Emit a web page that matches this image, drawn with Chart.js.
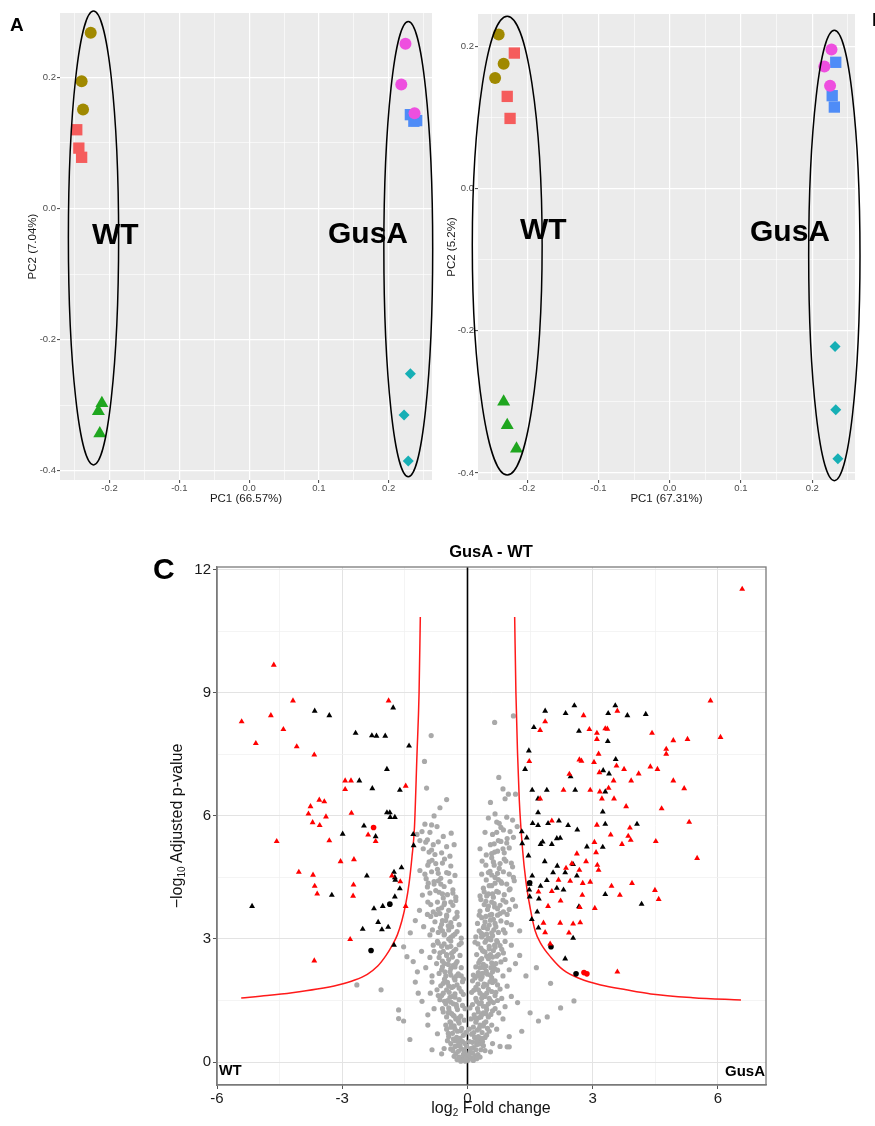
<!DOCTYPE html>
<html>
<head>
<meta charset="utf-8">
<script src="https://cdn.jsdelivr.net/npm/chart.js@4.4.0/dist/chart.umd.min.js"></script>
<style>
  body { margin: 0; width: 875px; height: 1126px; position: relative; overflow: hidden; background: #fff;
         font-family: "Liberation Sans", Arial, Helvetica, sans-serif; }
  canvas { position: absolute; }
  .lbl { position: absolute; font-weight: bold; color: #000; line-height: 1; white-space: nowrap; }
  .ttl { position: absolute; color: #111; line-height: 1; white-space: nowrap; font-size: 16px; }
  .ttl sub { font-size: 10px; vertical-align: -3px; }
</style>
</head>
<body>
<canvas id="pcaA" width="440" height="510" style="left:0;top:0"></canvas>
<canvas id="pcaB" width="435" height="510" style="left:440px;top:0"></canvas>
<canvas id="volcano" width="660" height="596" style="left:130px;top:530px"></canvas>

<div class="lbl" style="left:10px;top:15px;font-size:19px">A</div>
<div class="lbl" style="left:872px;top:10px;font-size:19px">B</div>
<div class="lbl" style="left:153px;top:554px;font-size:30px">C</div>
<div class="lbl" style="left:92px;top:219px;font-size:30px">WT</div>
<div class="lbl" style="left:328px;top:218px;font-size:30px">GusA</div>
<div class="lbl" style="left:520px;top:214px;font-size:30px">WT</div>
<div class="lbl" style="left:750px;top:216px;font-size:30px">GusA</div>
<div class="lbl" style="left:491px;top:543px;font-size:16.5px;transform:translateX(-50%)">GusA - WT</div>
<div class="lbl" style="left:219px;top:1063px;font-size:14.5px">WT</div>
<div class="lbl" style="right:110px;top:1063px;font-size:15px">GusA</div>
<div class="ttl" style="left:178px;top:826px;transform:translate(-50%,-50%) rotate(-90deg)">&minus;log<sub>10</sub> Adjusted p-value</div>
<div class="ttl" style="left:491px;top:1109px;transform:translate(-50%,-50%)">log<sub>2</sub> Fold change</div>

<script>
// ---- panel A: PCA (PC1 66.57%, PC2 7.04%) ----
const aOliveCircles = [[-0.227, 0.268], [-0.240, 0.194], [-0.238, 0.151]];
const aRedSquares = [[-0.247, 0.120], [-0.244, 0.092], [-0.240, 0.078]];
const aGreenTriangles = [[-0.211, -0.297], [-0.216, -0.309], [-0.214, -0.343]];
const aMagentaCircles = [[0.224, 0.251], [0.218, 0.189], [0.237, 0.145]];
const aBlueSquares = [[0.231, 0.143], [0.236, 0.133], [0.240, 0.134]];
const aCyanDiamonds = [[0.231, -0.252], [0.222, -0.315], [0.228, -0.385]];
// ellipses: centre x, centre y, half width, half height
const aEllipses = [[-0.223, -0.045, 0.036, 0.346], [0.228, -0.062, 0.035, 0.347]];

// ---- panel B: PCA (PC1 67.31%, PC2 5.2%) ----
const bOliveCircles = [[-0.240, 0.217], [-0.233, 0.176], [-0.245, 0.156]];
const bRedSquares = [[-0.218, 0.191], [-0.228, 0.130], [-0.224, 0.099]];
const bGreenTriangles = [[-0.233, -0.300], [-0.228, -0.333], [-0.215, -0.366]];
const bMagentaCircles = [[0.227, 0.196], [0.217, 0.172], [0.225, 0.145]];
const bBlueSquares = [[0.233, 0.178], [0.228, 0.131], [0.231, 0.115]];
const bCyanDiamonds = [[0.232, -0.222], [0.233, -0.311], [0.236, -0.380]];
const bEllipses = [[-0.228, -0.080, 0.049, 0.323], [0.231, -0.094, 0.036, 0.317]];

// ---- panel C: volcano GusA - WT ----
const redTriangles = [
  [-5.41,8.30],[-5.07,7.77],[-4.64,9.68],[-4.71,8.45],[-4.41,8.11],[-4.18,8.81],[-4.09,7.69],[-3.67,7.49],
  [-1.89,8.81],[-1.48,6.73],[-2.93,6.86],[-2.79,6.86],[-2.93,6.65],[-3.76,6.23],[-3.55,6.39],[-3.43,6.35],
  [-3.81,6.05],[-3.39,5.98],[-2.78,6.07],[-3.71,5.84],[-3.54,5.77],[-4.57,5.38],[-3.31,5.40],[-2.38,5.54],
  [-2.20,5.38],[-3.04,4.89],[-2.72,4.94],[-4.04,4.63],[-3.70,4.56],[-3.66,4.29],[-3.60,4.10],[-2.73,4.32],
  [-2.74,4.05],[-1.81,4.54],[-1.61,4.40],[-1.48,3.80],[-2.81,2.99],[-3.67,2.47],
  [6.58,11.53],[5.82,8.81],[6.06,7.92],[5.27,7.87],[4.93,7.84],[4.76,7.63],[4.76,7.51],[4.42,8.02],
  [4.38,7.20],[4.55,7.14],[4.10,7.03],[3.92,6.86],[3.75,7.14],[3.57,7.22],[3.50,6.86],[3.38,6.68],
  [3.16,7.06],[3.14,7.51],[3.03,7.31],[2.68,7.37],[2.73,7.34],[3.10,7.87],[3.10,8.02],[2.92,8.11],
  [3.30,8.13],[3.35,8.12],[3.59,8.56],[2.78,8.45],[1.86,8.30],[1.74,8.09],[1.48,7.33],[2.44,7.02],
  [2.30,6.63],[2.94,6.63],[3.17,6.59],[3.22,6.42],[3.51,6.42],[4.93,6.86],[5.19,6.67],[3.80,6.23],
  [4.65,6.18],[5.31,5.85],[1.74,6.42],[2.02,5.88],[3.10,5.78],[3.89,5.71],[3.43,5.54],[3.85,5.51],
  [3.91,5.41],[4.51,5.38],[3.70,5.31],[3.04,5.36],[3.08,5.11],[5.50,4.97],[2.62,5.08],[2.84,4.89],
  [3.11,4.80],[3.14,4.68],[2.36,4.73],[2.68,4.68],[2.50,4.84],[2.18,4.44],[2.46,4.41],[2.76,4.36],
  [2.94,4.39],[3.45,4.29],[3.94,4.36],[4.49,4.19],[4.58,3.97],[3.65,4.07],[2.75,4.07],[2.23,3.93],
  [2.02,4.16],[1.70,4.15],[1.93,3.80],[2.69,3.77],[3.05,3.75],[1.82,3.39],[2.22,3.39],[2.53,3.37],
  [2.70,3.40],[1.86,3.16],[2.43,3.15],[1.98,2.88],[3.59,2.20]
];
const blackTriangles = [
  [-3.66,8.56],[-3.31,8.45],[-2.68,8.02],[-2.29,7.96],[-2.18,7.95],[-1.97,7.95],[-1.78,8.64],[-1.40,7.71],
  [-1.93,7.14],[-2.59,6.86],[-2.28,6.67],[-1.62,6.63],[-1.93,6.08],[-1.86,6.08],[-1.85,5.97],[-1.74,5.97],
  [-2.48,5.76],[-5.16,3.80],[-2.99,5.56],[-2.20,5.50],[-1.30,5.55],[-1.29,5.28],[-3.25,4.07],[-2.41,4.54],
  [-1.76,4.63],[-1.74,4.50],[-1.73,4.44],[-1.58,4.74],[-1.62,4.23],[-1.74,4.03],[-2.03,3.80],[-2.24,3.74],
  [-2.14,3.41],[-2.51,3.24],[-2.05,3.23],[-1.90,3.29],[-1.76,2.85],
  [1.86,8.56],[2.35,8.50],[2.56,8.69],[3.37,8.50],[3.54,8.69],[3.83,8.45],[4.27,8.48],[1.59,8.16],
  [2.67,8.07],[3.36,7.82],[1.47,7.59],[1.38,7.14],[3.55,7.38],[3.25,7.11],[3.39,7.03],[2.47,6.96],
  [1.55,6.63],[1.90,6.63],[2.58,6.63],[3.30,6.59],[1.69,6.42],[1.69,6.08],[3.24,6.10],[1.56,5.82],
  [1.69,5.77],[1.93,5.82],[2.19,5.88],[2.41,5.77],[3.30,5.80],[4.06,5.80],[1.30,5.62],[1.42,5.47],
  [1.31,5.33],[2.14,5.45],[2.22,5.46],[2.63,5.66],[1.80,5.37],[1.75,5.31],[2.02,5.31],[2.86,5.25],
  [3.24,5.24],[1.46,5.03],[1.85,4.89],[2.15,4.78],[2.05,4.62],[2.53,4.82],[2.34,4.62],[1.55,4.54],
  [1.90,4.43],[2.62,4.54],[1.49,4.34],[1.75,4.29],[2.14,4.24],[2.30,4.20],[1.48,4.20],[1.49,4.03],
  [1.71,3.98],[3.30,4.09],[4.17,3.85],[2.67,3.79],[1.67,3.66],[1.54,3.48],[1.70,3.27],[2.53,3.02],
  [2.34,2.52]
];
const blackCircles = [[-1.86,3.85],[-2.31,2.72],[1.49,4.37],[2.00,2.81],[2.60,2.15]];
const redCircles = [[-2.25,5.72],[2.79,2.18],[2.86,2.15]];
const grayCircles = [
  [-0.05,0.02],[0.02,0.05],[-0.12,0.08],[0.1,0.1],[-0.2,0.12],[0.18,0.15],[-0.28,0.2],[0.25,0.18],[-0.08,0.22],
  [0.06,0.25],[-0.35,0.28],[0.32,0.3],[-0.15,0.32],[0.14,0.35],[-0.24,0.4],[0.22,0.42],[-0.4,0.45],[0.38,0.4],
  [-0.06,0.45],[0.05,0.5],[-0.3,0.52],[0.3,0.55],[-0.18,0.58],[0.17,0.6],[-0.45,0.62],[0.42,0.6],[-0.1,0.65],
  [0.1,0.68],[-0.36,0.7],[0.35,0.72],[-0.24,0.75],[0.24,0.78],[-0.5,0.8],[0.48,0.82],[-0.14,0.82],[0.14,0.85],
  [-0.32,0.88],[0.3,0.9],[-0.2,0.95],[0.2,0.97],[-0.42,0.98],[0.44,0.98],
  [-0.16,0.02],[0.14,0.04],[-0.25,0.06],[0.22,0.08],[0.04,0.1],[-0.32,0.14],[0.3,0.12],[-0.1,0.18],[0.12,0.22],
  [-0.22,0.26],[0.2,0.3],[-0.4,0.32],[0.42,0.28],[-0.3,0.38],[0.28,0.44],[-0.12,0.5],[0.36,0.5],[-0.48,0.52],
  [-0.85,0.3],[-0.56,0.33],[-0.72,0.69],[-0.95,0.9],[-1.65,1.06],[-1.53,1.0],[0.95,0.37],[1.0,0.37],[0.78,0.38],
  [0.6,0.45],[1.3,0.75],[1.0,0.62],[0.7,0.8],[-1.38,0.55],[-0.62,0.2],[0.55,0.25],
  [0.22,0.52],[0.34,0.58],[0.46,0.66],[0.15,0.72],[0.52,0.75],[0.28,0.82],[0.58,0.9],[0.4,0.95],
  [-0.22,0.5],[-0.34,0.56],[-0.46,0.7],[-0.16,0.76],[-0.3,0.8],[-0.52,0.9],[-0.4,0.96],
  [-0.08,1.02],[0.08,1.05],[-0.28,1.05],[0.27,1.08],[-0.5,1.1],[0.5,1.1],[-0.16,1.12],[0.16,1.15],[-0.38,1.18],
  [0.38,1.2],[-0.58,1.22],[0.6,1.25],[-0.24,1.28],[0.24,1.3],[-0.45,1.32],[0.45,1.35],[-0.12,1.38],[0.12,1.4],
  [-0.34,1.42],[0.33,1.45],[-0.55,1.48],[0.55,1.5],[-0.2,1.52],[0.2,1.55],[-0.42,1.58],[0.42,1.6],[-0.62,1.62],
  [0.66,1.62],[-0.3,1.66],[0.3,1.68],[-0.15,1.72],[0.15,1.75],[-0.5,1.76],[0.5,1.78],[-0.38,1.82],[0.38,1.84],
  [-0.25,1.88],[0.25,1.9],[-0.58,1.92],[0.6,1.94],[-0.12,1.96],[0.12,1.98],
  [0.18,1.08],[0.32,1.1],[0.44,1.18],[0.56,1.16],[0.66,1.3],[0.26,1.22],[0.38,1.36],[0.5,1.42],[0.62,1.45],
  [0.72,1.5],[0.22,1.48],[0.34,1.56],[0.46,1.68],[0.58,1.72],[0.68,1.7],[0.78,1.78],[0.26,1.76],[0.4,1.9],
  [0.54,1.96],[0.66,1.98],
  [-0.2,1.08],[-0.34,1.14],[-0.46,1.2],[-0.6,1.3],[-0.26,1.34],[-0.4,1.46],[-0.52,1.42],[-0.66,1.52],[-0.3,1.58],
  [-0.44,1.7],[-0.58,1.68],[-0.7,1.62],[-0.34,1.84],[-0.48,1.94],[-0.64,1.86],
  [-1.18,1.68],[-1.09,1.48],[-0.89,1.68],[-0.73,1.76],[-0.8,1.3],[-0.95,1.15],[-1.65,1.27],[-2.07,1.76],
  [-2.65,1.88],[-1.25,1.95],[-0.85,1.95],[0.75,1.2],[0.9,1.35],[0.82,1.55],[1.05,1.6],[0.95,1.85],[1.2,1.45],
  [0.72,1.88],[1.91,1.1],[2.23,1.32],[2.55,1.49],[1.5,1.2],[1.7,1.0],[0.85,1.05],
  [-0.1,2.02],[0.18,2.05],[-0.32,2.05],[0.35,2.08],[-0.52,2.1],[0.55,2.12],[-0.22,2.15],[0.26,2.18],[-0.42,2.2],
  [0.45,2.22],[-0.62,2.25],[0.65,2.28],[-0.15,2.3],[0.2,2.32],[-0.35,2.35],[0.38,2.38],[-0.55,2.4],[0.58,2.42],
  [-0.25,2.45],[0.3,2.48],[-0.45,2.5],[0.5,2.52],[-0.68,2.55],[0.7,2.58],[-0.18,2.6],[0.22,2.62],[-0.38,2.65],
  [0.42,2.68],[-0.58,2.7],[0.62,2.72],[-0.28,2.75],[0.32,2.78],[-0.48,2.8],[0.52,2.82],[-0.2,2.86],[0.25,2.88],
  [-0.7,2.9],[0.72,2.92],[-0.4,2.95],[0.45,2.97],
  [0.24,2.1],[0.36,2.16],[0.48,2.14],[0.6,2.2],[0.72,2.24],[0.3,2.3],[0.44,2.34],[0.56,2.3],[0.68,2.4],[0.8,2.44],
  [0.34,2.52],[0.46,2.58],[0.6,2.56],[0.74,2.62],[0.86,2.66],[0.38,2.7],[0.52,2.76],[0.66,2.8],[0.78,2.84],
  [0.42,2.92],[0.56,2.98],[0.7,2.96],[0.9,2.94],
  [-0.26,2.1],[-0.4,2.12],[-0.54,2.2],[-0.68,2.16],[-0.3,2.32],[-0.46,2.38],[-0.6,2.46],[-0.74,2.4],[-0.36,2.56],
  [-0.5,2.62],[-0.66,2.66],[-0.8,2.7],[-0.4,2.82],[-0.56,2.88],[-0.72,2.94],
  [-0.85,2.1],[-1.0,2.3],[-1.2,2.2],[-0.9,2.55],[-1.1,2.7],[-1.45,2.57],[-1.53,2.81],[-0.82,2.85],[-1.3,2.45],
  [0.85,2.1],[1.0,2.25],[0.9,2.5],[1.15,2.4],[0.82,2.75],[1.05,2.85],[1.25,2.6],[1.99,1.92],[1.4,2.1],[1.65,2.3],
  [-0.15,3.02],[0.2,3.05],[-0.35,3.08],[0.38,3.1],[-0.55,3.12],[0.58,3.15],[-0.25,3.18],[0.28,3.2],[-0.45,3.22],
  [0.48,3.25],[-0.65,3.28],[0.68,3.3],[-0.2,3.35],[0.24,3.38],[-0.4,3.4],[0.42,3.42],[-0.6,3.45],[0.62,3.48],
  [-0.3,3.5],[0.34,3.52],[-0.5,3.55],[0.54,3.58],[-0.75,3.6],[0.78,3.62],[-0.25,3.65],[0.3,3.68],[-0.45,3.7],
  [0.48,3.72],[-0.62,3.76],[0.65,3.78],[-0.35,3.82],[0.4,3.84],[-0.55,3.88],[0.58,3.9],[-0.28,3.94],[0.32,3.96],
  [0.34,3.05],[0.46,3.12],[0.6,3.08],[0.74,3.16],[0.86,3.22],[0.38,3.28],[0.52,3.34],[0.66,3.38],[0.8,3.44],
  [0.94,3.4],[0.44,3.55],[0.58,3.6],[0.72,3.58],[0.86,3.66],[1.0,3.72],[0.5,3.8],[0.64,3.86],[0.78,3.82],
  [0.92,3.9],[1.08,3.96],
  [-0.4,3.04],[-0.56,3.1],[-0.7,3.16],[-0.84,3.22],[-0.46,3.32],[-0.62,3.36],[-0.78,3.42],[-0.5,3.58],[-0.66,3.62],
  [-0.82,3.66],[-0.96,3.6],[-0.56,3.84],[-0.72,3.9],[-0.88,3.84],
  [-0.9,3.1],[-1.05,3.3],[-1.37,3.15],[-0.88,3.55],[-1.15,3.7],[-0.95,3.9],[-1.25,3.45],[0.9,3.15],[1.05,3.35],
  [0.95,3.6],[1.15,3.8],[0.85,3.95],[1.25,3.2],
  [-0.28,4.02],[0.3,4.05],[-0.48,4.08],[0.5,4.1],[-0.68,4.14],[0.7,4.16],[-0.35,4.2],[0.38,4.24],[-0.56,4.28],
  [0.58,4.3],[-0.8,4.34],[0.82,4.36],[-0.42,4.4],[0.45,4.44],[-0.64,4.48],[0.66,4.5],[-0.3,4.55],[0.34,4.58],
  [-0.5,4.62],[0.54,4.65],[-0.72,4.7],[0.76,4.72],[-0.4,4.78],[0.44,4.8],[-0.6,4.85],[0.62,4.88],[-0.85,4.92],
  [0.88,4.95],[-1.14,4.67],[-0.99,4.47],[-1.08,4.07],[-0.96,4.27],[1.0,4.2],[1.1,4.5],[1.05,4.85],[-0.95,4.8],
  [0.46,4.05],[0.6,4.1],[0.74,4.14],[0.88,4.08],[1.02,4.22],[0.52,4.3],[0.66,4.36],[0.8,4.4],[0.94,4.34],
  [1.12,4.42],[0.58,4.56],[0.72,4.6],[0.86,4.64],[1.0,4.58],[0.64,4.8],[0.78,4.84],[0.92,4.9],[1.08,4.76],
  [-0.6,4.1],[-0.76,4.18],[-0.9,4.12],[-0.64,4.34],[-0.8,4.4],[-0.94,4.36],[-0.7,4.6],[-0.86,4.64],[-1.02,4.58],
  [-0.76,4.84],[-0.92,4.88],
  [-0.42,5.02],[0.45,5.05],[-0.62,5.1],[0.65,5.12],[-0.86,5.17],[0.85,5.2],[-0.5,5.25],[0.55,5.3],[-0.7,5.37],
  [0.74,5.4],[-0.96,5.42],[0.95,5.45],[-0.58,5.5],[0.6,5.55],[-0.39,5.58],[0.42,5.6],[-0.86,5.78],[0.8,5.72],
  [-0.73,5.74],[0.7,5.85],[-1.21,5.55],[-1.09,5.62],[1.08,5.9],[0.5,5.95],
  [0.58,5.08],[0.72,5.14],[0.88,5.1],[1.0,5.22],[0.64,5.32],[0.8,5.38],[0.94,5.34],[1.1,5.48],[0.7,5.6],
  [0.86,5.66],[1.02,5.62],[0.76,5.82],
  [-0.78,5.06],[-0.92,5.12],[-1.06,5.2],[-0.82,5.3],[-1.0,5.36],[-1.14,5.4],[-0.9,5.6],[-1.02,5.8],
  [-0.66,6.2],[-0.98,6.68],[-1.03,7.33],[-0.87,7.96],[0.55,6.33],[0.66,6.05],[0.94,5.97],[1.19,5.74],[0.9,6.42],
  [0.85,6.66],[0.98,6.53],[1.15,6.53],[0.75,6.94],[0.65,8.28],[1.1,8.44],[-0.8,6.0],[-0.5,6.4],
  [-0.02,0.12],[0.03,0.18],[-0.09,0.3],[0.08,0.33],[-0.18,0.4],[-0.02,0.38],[0.12,0.48],[-0.26,0.6],[0.26,0.62],
  [-0.04,0.72],[0.04,0.8],[-0.4,0.85],[0.38,0.88],[-0.22,1.0],[0.21,1.02],[-0.32,1.12],[0.34,1.15],[-0.44,1.25],
  [0.46,1.28],[-0.06,1.3],[0.06,1.32],[-0.27,1.4],[0.28,1.42],[-0.48,1.5],[0.52,1.55],[-0.36,1.6],[0.36,1.63],
  [-0.1,1.65],[0.1,1.7],[-0.2,1.8],[0.2,1.82],[-0.45,1.86],[0.46,1.88],[-0.3,2.0],[0.32,2.02],[-0.55,2.02],
  [0.58,2.05],[-0.15,2.1],[0.14,2.12],[-0.4,2.28],[0.4,2.3],[-0.6,2.32],[0.62,2.35],[-0.28,2.4],[0.27,2.42],
  [-0.5,2.6],[0.55,2.62],[-0.33,2.7],[0.36,2.72],[-0.62,2.82],[0.65,2.85],[-0.15,2.9],[0.18,2.92],[-0.45,3.0],
  [0.5,3.02],[-0.3,3.12],[0.33,3.14],[-0.6,3.2],[0.63,3.22],[-0.38,3.3],[0.4,3.32],[-0.52,3.45],[0.55,3.46],
  [-0.25,3.55],[0.28,3.58],[-0.7,3.72],[0.72,3.74],[-0.4,3.9],[0.44,3.92],[-0.58,4.0],[0.62,4.02],[-0.35,4.12],
  [0.4,4.15],[-0.7,4.42],[0.74,4.45],[-0.45,4.6],[0.5,4.62],[-0.55,4.95],[0.58,4.98],[0.35,4.9],[0.3,5.2],[-0.32,5.3]
];
// threshold curves
const leftCurve = [
  [-5.42,1.56],[-4.8,1.62],[-4.2,1.69],[-3.6,1.78],[-3.1,1.88],[-2.7,2.0],[-2.4,2.14],[-2.15,2.34],[-1.95,2.6],
  [-1.8,2.85],[-1.68,3.1],[-1.57,3.45],[-1.48,3.85],[-1.4,4.35],[-1.33,5.0],[-1.27,5.73],[-1.21,7.5],[-1.16,9.0],
  [-1.13,10.85]
];
const rightCurve = [
  [1.13,10.85],[1.16,9.0],[1.2,7.5],[1.24,6.4],[1.32,5.17],[1.4,4.4],[1.51,3.71],[1.62,3.2],[1.75,2.9],[2.0,2.55],
  [2.3,2.24],[2.7,2.03],[3.19,1.88],[3.8,1.76],[4.39,1.66],[5.4,1.57],[6.55,1.51]
];
const volcanoX = [-6, 7.15];
const volcanoY = [-0.56, 12.07];

Chart.defaults.font.family = '"Liberation Sans", Arial, Helvetica, sans-serif';
Chart.defaults.animation = false;
Chart.defaults.events = [];
Chart.defaults.plugins.legend.display = false;
Chart.defaults.plugins.tooltip.enabled = false;

const pts = arr => arr.map(([x, y]) => ({x, y}));
const isMajor = (v, step) => Math.abs(v / step - Math.round(v / step)) < 1e-6;

// grey ggplot panel behind the grid
const panelBg = {
  id: 'panelBg',
  beforeDraw(chart, args, opts) {
    if (!opts.color) return;
    const {ctx, chartArea: a} = chart;
    ctx.save();
    ctx.fillStyle = opts.color;
    ctx.fillRect(a.left, a.top, a.width, a.height);
    ctx.restore();
  }
};
// group ellipses drawn through the scales
const ellipses = {
  id: 'ellipses',
  afterDatasetsDraw(chart, args, opts) {
    if (!opts.list) return;
    const {ctx, scales: {x, y}} = chart;
    ctx.save();
    ctx.strokeStyle = '#000';
    ctx.lineWidth = 1.5;
    opts.list.forEach(([cx, cy, rx, ry]) => {
      const px = x.getPixelForValue(cx), py = y.getPixelForValue(cy);
      const w = Math.abs(x.getPixelForValue(cx + rx) - px);
      const h = Math.abs(y.getPixelForValue(cy + ry) - py);
      ctx.beginPath();
      ctx.ellipse(px, py, w, h, 0, 0, Math.PI * 2);
      ctx.stroke();
    });
    ctx.restore();
  }
};
// box round the volcano panel
const panelBox = {
  id: 'panelBox',
  afterDraw(chart, args, opts) {
    if (!opts.color) return;
    const {ctx, chartArea: a} = chart;
    ctx.save();
    ctx.strokeStyle = opts.color;
    ctx.lineWidth = 1.3;
    ctx.strokeRect(a.left, a.top, a.width, a.height);
    ctx.restore();
  }
};

function pcaChart(id, g, xLim, yLim, xTitle, yTitle, ell, geo) {
  const ds = (data, style, r, color) => ({
    data: pts(data), pointStyle: style, pointRadius: r, backgroundColor: color, borderWidth: 0
  });
  const tickFont = {size: 9.5};
  new Chart(document.getElementById(id), {
    type: 'scatter',
    data: {
      datasets: [
        ds(g.magenta, 'circle', 6, '#EE4FDF'),
        ds(g.blue, 'rect', 8, '#4F8CF7'),
        ds(g.cyan, 'rectRot', 5.5, '#16AFB5'),
        ds(g.green, 'triangle', 7.5, '#1FA61F'),
        ds(g.red, 'rect', 8, '#F55C5C'),
        ds(g.olive, 'circle', 6, '#A08900')
      ]
    },
    options: {
      responsive: false,
      layout: {padding: {left: 0, top: geo.top, right: geo.right, bottom: 0}},
      scales: {
        x: {
          type: 'linear', min: xLim[0], max: xLim[1],
          afterFit: s => { s.height = 30; },
          border: {display: false},
          grid: {
            color: '#ffffff',
            lineWidth: c => isMajor(c.tick.value, 0.1) ? 1.2 : 0.6,
            tickLength: 3, tickWidth: 1,
            tickColor: c => isMajor(c.tick.value, 0.1) ? '#444' : 'rgba(0,0,0,0)'
          },
          ticks: {
            stepSize: 0.05, includeBounds: false, autoSkip: false, maxRotation: 0,
            padding: 0, color: '#4d4d4d', font: tickFont,
            callback: v => isMajor(v, 0.1) ? v.toFixed(1) : ''
          },
          title: {display: true, text: xTitle, color: '#1a1a1a', font: {size: 11.5}, padding: {top: 0, bottom: 4}}
        },
        y: {
          type: 'linear', min: yLim[0], max: yLim[1],
          afterFit: s => { s.width = geo.yWidth; },
          border: {display: false},
          grid: {
            color: '#ffffff',
            lineWidth: c => isMajor(c.tick.value, 0.2) ? 1.2 : 0.6,
            tickLength: 3, tickWidth: 1,
            tickColor: c => isMajor(c.tick.value, 0.2) ? '#444' : 'rgba(0,0,0,0)'
          },
          ticks: {
            stepSize: 0.1, includeBounds: false, autoSkip: false,
            padding: 1, color: '#4d4d4d', font: tickFont,
            callback: v => isMajor(v, 0.2) ? v.toFixed(1) : ''
          },
          title: {display: true, text: yTitle, color: '#1a1a1a', font: {size: 11.5}, padding: {top: geo.yTitlePad, bottom: 0}}
        }
      },
      plugins: {panelBg: {color: '#EBEBEB'}, ellipses: {list: ell}}
    },
    plugins: [panelBg, ellipses]
  });
}

pcaChart('pcaA',
  {olive: aOliveCircles, red: aRedSquares, green: aGreenTriangles, magenta: aMagentaCircles, blue: aBlueSquares, cyan: aCyanDiamonds},
  [-0.271, 0.262], [-0.414, 0.298], 'PC1 (66.57%)', 'PC2 (7.04%)', aEllipses,
  {top: 13, right: 3, yWidth: 60, yTitlePad: 26});

pcaChart('pcaB',
  {olive: bOliveCircles, red: bRedSquares, green: bGreenTriangles, magenta: bMagentaCircles, blue: bBlueSquares, cyan: bCyanDiamonds},
  [-0.269, 0.260], [-0.41, 0.246], 'PC1 (67.31%)', 'PC2 (5.2%)', bEllipses,
  {top: 14, right: 20, yWidth: 38, yTitlePad: 5.4});

// volcano plot
const volTick = {size: 15};
new Chart(document.getElementById('volcano'), {
  type: 'scatter',
  data: {
    datasets: [
      {data: pts(redTriangles), pointStyle: 'triangle', pointRadius: 3.4, backgroundColor: '#ff0000', borderWidth: 0},
      {data: pts(blackTriangles), pointStyle: 'triangle', pointRadius: 3.4, backgroundColor: '#000000', borderWidth: 0},
      {data: pts(redCircles), pointStyle: 'circle', pointRadius: 2.8, backgroundColor: '#ff0000', borderWidth: 0},
      {data: pts(blackCircles), pointStyle: 'circle', pointRadius: 2.8, backgroundColor: '#000000', borderWidth: 0},
      {data: pts(leftCurve), showLine: true, borderColor: '#ff1a1a', borderWidth: 1.5, pointRadius: 0, cubicInterpolationMode: 'monotone'},
      {data: pts(rightCurve), showLine: true, borderColor: '#ff1a1a', borderWidth: 1.5, pointRadius: 0, cubicInterpolationMode: 'monotone'},
      {data: pts(grayCircles), pointStyle: 'circle', pointRadius: 2.6, backgroundColor: '#a9a9a9', borderWidth: 0},
      {data: [{x: 0, y: volcanoY[0]}, {x: 0, y: volcanoY[1]}], showLine: true, borderColor: '#000', borderWidth: 1.6, pointRadius: 0}
    ]
  },
  options: {
    responsive: false,
    layout: {padding: {left: 0, top: 37, right: 24, bottom: 0}},
    scales: {
      x: {
        type: 'linear', min: volcanoX[0], max: volcanoX[1],
        afterFit: s => { s.height = 41; },
        border: {color: '#7a7a7a', width: 1.3},
        grid: {
          color: c => isMajor(c.tick.value, 3) ? '#e3e3e3' : '#f1f1f1',
          lineWidth: c => isMajor(c.tick.value, 3) ? 1 : 0.8,
          tickLength: 4, tickWidth: 1,
          tickColor: c => isMajor(c.tick.value, 3) ? '#555' : 'rgba(0,0,0,0)'
        },
        ticks: {
          stepSize: 1.5, includeBounds: false, autoSkip: false, maxRotation: 0,
          padding: 1, color: '#1a1a1a', font: volTick,
          callback: v => isMajor(v, 3) ? String(v) : ''
        }
      },
      y: {
        type: 'linear', min: volcanoY[0], max: volcanoY[1],
        afterFit: s => { s.width = 87; },
        border: {color: '#7a7a7a', width: 1.3},
        grid: {
          color: c => isMajor(c.tick.value, 3) ? '#e3e3e3' : '#f1f1f1',
          lineWidth: c => isMajor(c.tick.value, 3) ? 1 : 0.8,
          tickLength: 4, tickWidth: 1,
          tickColor: c => isMajor(c.tick.value, 3) ? '#555' : 'rgba(0,0,0,0)'
        },
        ticks: {
          stepSize: 1.5, includeBounds: false, autoSkip: false,
          padding: 2, color: '#1a1a1a', font: volTick,
          callback: v => isMajor(v, 3) ? String(v) : ''
        }
      }
    },
    plugins: {panelBox: {color: '#7a7a7a'}}
  },
  plugins: [panelBox]
});
</script>
</body>
</html>
